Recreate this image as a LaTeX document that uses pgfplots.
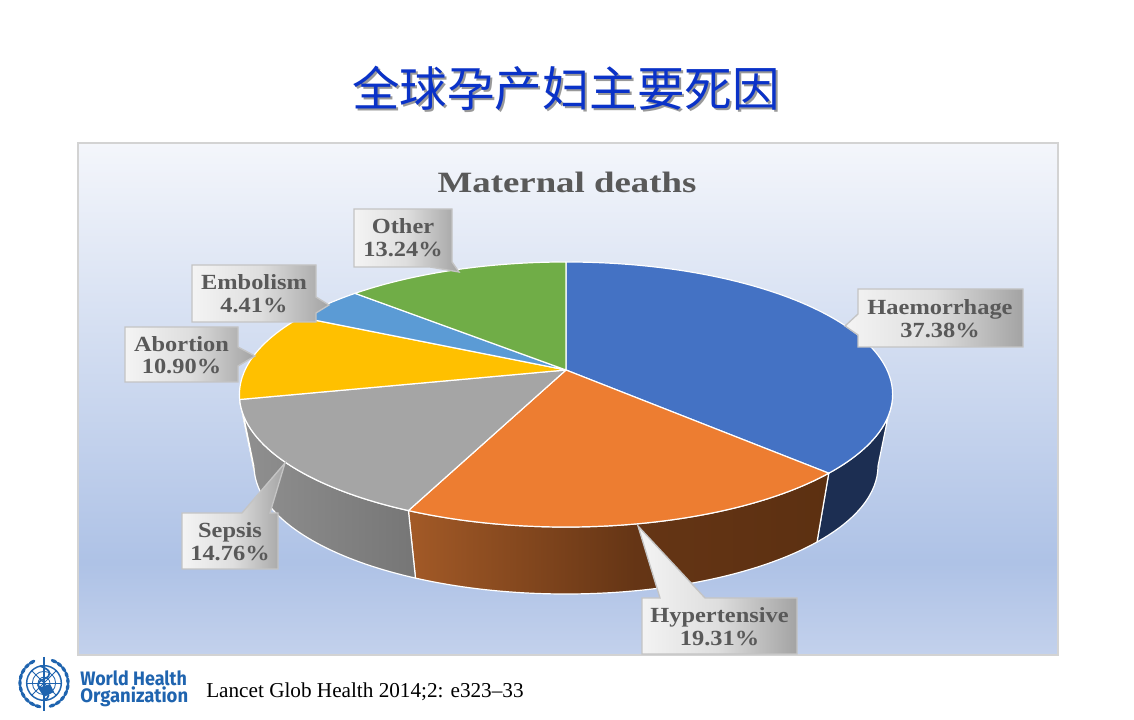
\documentclass[border=0pt]{standalone}
\usepackage{pgfplots}
\pgfplotsset{compat=1.18}
\usepackage{pgfplotstable}
\usepackage{graphicx}
\usepackage{fontspec}
\usetikzlibrary{shapes.geometric}
\setmainfont{Liberation Serif}
\newfontfamily\cjk{Noto Sans CJK SC}
\newfontfamily\whofont{Fira Sans}

\definecolor{cHaem}{HTML}{4472C4}
\definecolor{cHyp}{HTML}{ED7D31}
\definecolor{cSep}{HTML}{A5A5A5}
\definecolor{cAbo}{HTML}{FFC000}
\definecolor{cEmb}{HTML}{5B9BD5}
\definecolor{cOth}{HTML}{70AD47}
\definecolor{sHaem}{HTML}{1C2E52}
\definecolor{sHypL}{HTML}{A35A27}
\definecolor{sHypM}{HTML}{653515}
\definecolor{sHypR}{HTML}{5C3011}
\definecolor{sSepL}{HTML}{909090}
\definecolor{sSepR}{HTML}{767676}
\definecolor{sAbo}{HTML}{9C7500}
\definecolor{txtGray}{HTML}{595959}
\definecolor{boxL}{HTML}{F4F4F4}
\definecolor{boxM}{HTML}{DEDEDE}
\definecolor{boxR}{HTML}{A3A3A3}
\definecolor{boxEdge}{HTML}{C4C4C4}
\definecolor{bgT}{HTML}{F4F6FB}
\definecolor{bgM}{HTML}{AEC2E6}
\definecolor{bgB}{HTML}{C3D1EC}
\definecolor{frame}{HTML}{D3D3D3}
\definecolor{titleBlue}{HTML}{0A32C8}
\definecolor{whoBlue}{HTML}{1F64AF}

\pgfdeclareverticalshading{bgshade}{100bp}{color(0bp)=(bgB); color(25bp)=(bgB); color(34bp)=(bgM); color(75bp)=(bgT); color(100bp)=(bgT)}
\pgfdeclarehorizontalshading{boxshade}{100bp}{color(0bp)=(boxL); color(25bp)=(boxL); color(50bp)=(boxM); color(75bp)=(boxR); color(100bp)=(boxR)}
\pgfdeclarehorizontalshading{hypshade}{100bp}{color(0bp)=(sHypL); color(25bp)=(sHypL); color(52bp)=(sHypM); color(75bp)=(sHypR); color(100bp)=(sHypR)}

\pgfplotstableread{
cause pct
Haemorrhage 37.38
Hypertensive 19.31
Sepsis 14.76
Abortion 10.90
Embolism 4.41
Other 13.24
}\piedata

% screen pixel (x, y from top) -> axis coordinates
\newcommand\pxy[2]{(axis cs:#1,{720-(#2)})}
\newcommand\angb[1]{\csname tb#1\endcsname}
\newcommand\toppt[1]{(axis cs:{566+\RX*cos(#1)},{325.5+\RY*sin(#1)})}
\newcommand\botpt[1]{(axis cs:{566+312*cos(#1)},{254+128*sin(#1)})}
\newcommand\lbl{\fontsize{16.2pt}{18pt}\selectfont\bfseries}
\newcommand\lbltext[3]{%
  \node[anchor=base,text=txtGray,font=\lbl,inner sep=0pt] at \pxy{#1}{#2} {\scalebox{1.13}[1]{#3}};}

\begin{document}
\begin{tikzpicture}
% perspective parameters of the pie disc
\def\pk{0.1849}\def\pA{321}\def\pB{128}
\pgfmathsetmacro\RX{\pA/sqrt(1-\pk*\pk)}
\pgfmathsetmacro\RY{\pB/(1-\pk*\pk)}
\pgfmathsetmacro\YO{\pk*\pB/(1-\pk*\pk)}
\pgfmathsetmacro\RXpt{0.75*\RX}
\pgfmathsetmacro\RYpt{0.75*\RY}
\xdef\ccum{0}\xdef\tprev{90}
\expandafter\xdef\csname tb0\endcsname{90}
\foreach \i in {0,...,5}{
  \pgfplotstablegetelem{\i}{pct}\of\piedata
  \pgfmathsetmacro\cnew{\ccum+\pgfplotsretval}
  \pgfmathsetmacro\ph{90-3.6*\cnew}
  \pgfmathsetmacro\dd{1+\pk*sin(\ph)}
  \pgfmathsetmacro\ppx{\pA*cos(\ph)/\dd}
  \pgfmathsetmacro\ppy{\pB*sin(\ph)/\dd}
  \pgfmathsetmacro\tcur{atan2((\ppy+\YO)/\RY,\ppx/\RX)}
  \pgfmathsetmacro\tcur{(\tcur>\tprev)?(\tcur-360):(\tcur)}
  \pgfmathtruncatemacro\j{\i+1}
  \expandafter\xdef\csname tb\j\endcsname{\tcur}
  \xdef\tprev{\tcur}
  \xdef\ccum{\cnew}
}
\begin{axis}[width=850.5pt,height=540pt,scale only axis,
  xmin=0,xmax=1134,ymin=0,ymax=720,enlargelimits=false,
  hide axis,clip=false]
% page and chart area
\fill[white] \pxy{0}{0} rectangle \pxy{1134}{720};
\shadedraw[shading=bgshade,draw=frame,line width=1.5pt] \pxy{78}{143} rectangle \pxy{1058}{655};

% side walls
\filldraw[fill=sHaem,draw=white,line width=0.9pt,line join=round] \toppt{0}
  arc[start angle=0,end angle=\angb{1},x radius=\RXpt pt,y radius=\RYpt pt]
  -- \botpt{\angb{1}} arc[start angle=\angb{1},end angle=0,x radius=234pt,y radius=96pt] -- cycle;
\shadedraw[shading=hypshade,draw=white,line width=0.9pt,line join=round] \toppt{\angb{1}}
  arc[start angle=\angb{1},end angle=\angb{2},x radius=\RXpt pt,y radius=\RYpt pt]
  -- \botpt{\angb{2}} arc[start angle=\angb{2},end angle=\angb{1},x radius=234pt,y radius=96pt] -- cycle;
\shadedraw[left color=sSepL,right color=sSepR,draw=white,line width=0.9pt,line join=round] \toppt{\angb{2}}
  arc[start angle=\angb{2},end angle=\angb{3},x radius=\RXpt pt,y radius=\RYpt pt]
  -- \botpt{\angb{3}} arc[start angle=\angb{3},end angle=\angb{2},x radius=234pt,y radius=96pt] -- cycle;
\filldraw[fill=sAbo,draw=white,line width=0.6pt,line join=round] \toppt{\angb{3}}
  arc[start angle=\angb{3},end angle=-180,x radius=\RXpt pt,y radius=\RYpt pt]
  -- \botpt{-180} arc[start angle=-180,end angle=\angb{3},x radius=234pt,y radius=96pt] -- cycle;

% top faces
\filldraw[fill=cHaem,draw=white,line width=0.9pt,line join=round] (axis cs:566,350) -- \toppt{\angb{0}}
  arc[start angle=\angb{0},end angle=\angb{1},x radius=\RXpt pt,y radius=\RYpt pt] -- cycle;
\filldraw[fill=cHyp,draw=white,line width=0.9pt,line join=round] (axis cs:566,350) -- \toppt{\angb{1}}
  arc[start angle=\angb{1},end angle=\angb{2},x radius=\RXpt pt,y radius=\RYpt pt] -- cycle;
\filldraw[fill=cSep,draw=white,line width=0.9pt,line join=round] (axis cs:566,350) -- \toppt{\angb{2}}
  arc[start angle=\angb{2},end angle=\angb{3},x radius=\RXpt pt,y radius=\RYpt pt] -- cycle;
\filldraw[fill=cAbo,draw=white,line width=0.9pt,line join=round] (axis cs:566,350) -- \toppt{\angb{3}}
  arc[start angle=\angb{3},end angle=\angb{4},x radius=\RXpt pt,y radius=\RYpt pt] -- cycle;
\filldraw[fill=cEmb,draw=white,line width=0.9pt,line join=round] (axis cs:566,350) -- \toppt{\angb{4}}
  arc[start angle=\angb{4},end angle=\angb{5},x radius=\RXpt pt,y radius=\RYpt pt] -- cycle;
\filldraw[fill=cOth,draw=white,line width=0.9pt,line join=round] (axis cs:566,350) -- \toppt{\angb{5}}
  arc[start angle=\angb{5},end angle=\angb{6},x radius=\RXpt pt,y radius=\RYpt pt] -- cycle;

% callouts
\shadedraw[shading=boxshade,draw=boxEdge,line width=1pt]
  \pxy{858}{289} -- \pxy{1023}{289} -- \pxy{1023}{347} -- \pxy{858}{347} -- \pxy{858}{335} -- \pxy{845}{326} -- \pxy{858}{314} -- cycle;
\shadedraw[shading=boxshade,draw=boxEdge,line width=1pt]
  \pxy{642}{598} -- \pxy{660}{598} -- \pxy{638}{526} -- \pxy{705}{598} -- \pxy{797}{598} -- \pxy{797}{654} -- \pxy{642}{654} -- cycle;
\shadedraw[shading=boxshade,draw=boxEdge,line width=1pt]
  \pxy{182}{513} -- \pxy{242}{513} -- \pxy{285}{463} -- \pxy{270}{513} -- \pxy{278}{513} -- \pxy{278}{569} -- \pxy{182}{569} -- cycle;
\shadedraw[shading=boxshade,draw=boxEdge,line width=1pt]
  \pxy{125}{327} -- \pxy{238}{327} -- \pxy{238}{347} -- \pxy{255}{356} -- \pxy{238}{366} -- \pxy{238}{382} -- \pxy{125}{382} -- cycle;
\shadedraw[shading=boxshade,draw=boxEdge,line width=1pt]
  \pxy{192}{265} -- \pxy{316}{265} -- \pxy{316}{297} -- \pxy{329}{305} -- \pxy{316}{313} -- \pxy{316}{322} -- \pxy{192}{322} -- cycle;
\shadedraw[shading=boxshade,draw=boxEdge,line width=1pt]
  \pxy{354}{209} -- \pxy{452}{209} -- \pxy{452}{262} -- \pxy{459}{272} -- \pxy{430}{267} -- \pxy{354}{267} -- cycle;

\lbltext{940}{315}{Haemorrhage}
\lbltext{940}{338}{37.38\%}
\lbltext{719.5}{623}{Hypertensive}
\lbltext{719.5}{646}{19.31\%}
\lbltext{230}{538}{Sepsis}
\lbltext{230}{561}{14.76\%}
\lbltext{181.5}{352}{Abortion}
\lbltext{181.5}{374}{10.90\%}
\lbltext{254}{290}{Embolism}
\lbltext{254}{313}{4.41\%}
\lbltext{403}{234}{Other}
\lbltext{403}{257}{13.24\%}

% titles
\node[anchor=base,text=txtGray,inner sep=0pt,font=\fontsize{22.1pt}{24pt}\selectfont\bfseries] at \pxy{567}{193} {\scalebox{1.25}[1]{Maternal deaths}};
\node[anchor=center,text=black!40,inner sep=0pt,font=\cjk\fontsize{35.6pt}{38pt}\selectfont] at \pxy{568}{90} {全球孕产妇主要死因};
\node[anchor=center,text=titleBlue,inner sep=0pt,font=\cjk\fontsize{35.6pt}{38pt}\selectfont] at \pxy{566}{88} {全球孕产妇主要死因};

% footer
\node[anchor=base west,inner sep=0pt,font=\fontsize{15.9pt}{18pt}\selectfont] at \pxy{206}{698} {Lancet Glob Health 2014;2: e323–33};
\node[anchor=north west,inner sep=0pt,align=left,text=whoBlue,font=\whofont\bfseries\fontsize{14.6pt}{12.75pt}\selectfont] at \pxy{80}{670} {\scalebox{0.92}[1]{World Health}\\\scalebox{0.95}[1]{Organization}};

% emblem
\draw[whoBlue,line width=1.1pt] \pxy{44}{683} circle[radius=13pt];
\draw[whoBlue,line width=0.6pt] \pxy{44}{683} circle[radius=8.7pt];
\draw[whoBlue,line width=0.6pt] \pxy{44}{683} circle[radius=4.4pt];
\draw[whoBlue,line width=0.6pt] \pxy{27}{683} -- \pxy{61}{683};
\draw[whoBlue,line width=0.6pt] \pxy{32}{671} -- \pxy{56}{695};
\draw[whoBlue,line width=0.6pt] \pxy{32}{695} -- \pxy{56}{671};
\fill[whoBlue] \pxy{38}{688} -- \pxy{50}{684} -- \pxy{54}{692} -- \pxy{44}{697} -- cycle;
\draw[whoBlue,line width=2pt] \pxy{44}{657} -- \pxy{44}{711};
\draw[whoBlue,line width=1.3pt] \pxy{40}{666} .. controls \pxy{52}{670} and \pxy{52}{676} .. \pxy{44}{679}
  .. controls \pxy{36}{682} and \pxy{36}{688} .. \pxy{44}{691} .. controls \pxy{50}{693} and \pxy{50}{698} .. \pxy{44}{700};
\pgfplotsinvokeforeach{120,135,...,250}{
  \node[ellipse,fill=whoBlue,inner sep=0pt,minimum width=5.5pt,minimum height=2.6pt,rotate=#1+90]
    at (axis cs:{44+24*cos(#1)},{37+24*sin(#1)}) {};}
\pgfplotsinvokeforeach{-70,-55,...,60}{
  \node[ellipse,fill=whoBlue,inner sep=0pt,minimum width=5.5pt,minimum height=2.6pt,rotate=#1+90]
    at (axis cs:{44+24*cos(#1)},{37+24*sin(#1)}) {};}
\end{axis}
\end{tikzpicture}
\end{document}
